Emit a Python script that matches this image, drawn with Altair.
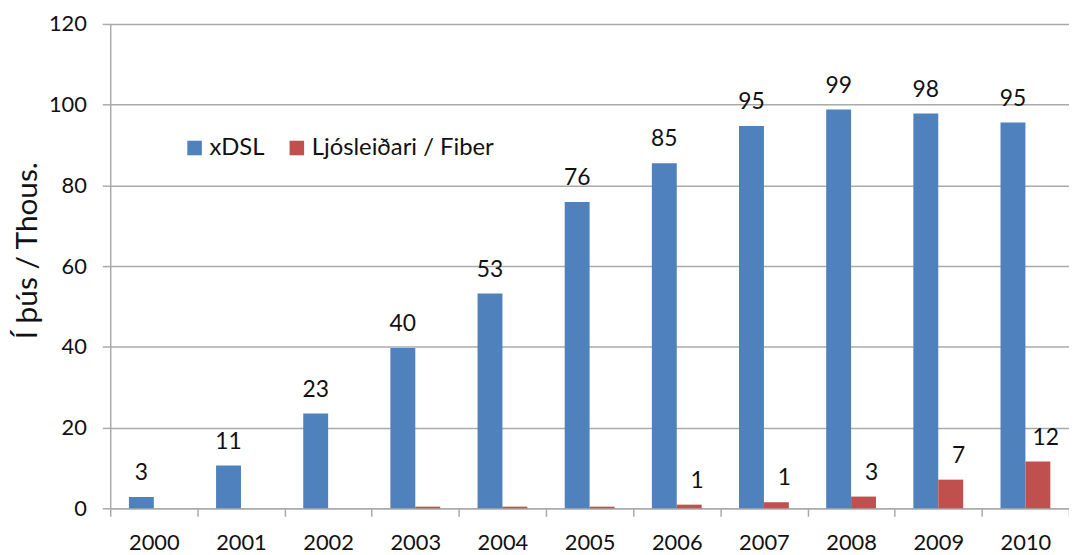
import altair as alt
import pandas as pd

years = ["2000", "2001", "2002", "2003", "2004", "2005", "2006", "2007", "2008", "2009", "2010"]
xdsl = [2.8, 10.6, 23.5, 39.7, 53.2, 75.9, 85.5, 94.7, 98.8, 97.8, 95.6]
fiber = [0, 0, 0, 0.4, 0.4, 0.4, 0.9, 1.5, 2.9, 7.1, 11.6]
xdsl_labels = ["3", "11", "23", "40", "53", "76", "85", "95", "99", "98", "95"]
fiber_labels = ["", "", "", "", "", "", "1", "1", "3", "7", "12"]
series_names = ["xDSL", "Ljósleiðari / Fiber"]
colors = ["#4F81BD", "#C0504D"]
y_ticks = [0, 20, 40, 60, 80, 100, 120]

rows = []
for i, yr in enumerate(years):
    rows.append({"year": yr, "series": series_names[0], "value": xdsl[i], "label": xdsl_labels[i]})
    rows.append({"year": yr, "series": series_names[1], "value": fiber[i], "label": fiber_labels[i]})
df = pd.DataFrame(rows)

FONT = "Lato"
TXT = "#111111"
GRID = "#AAAAAA"

x_enc = alt.X(
    "year:N",
    title=None,
    sort=years,
    scale=alt.Scale(paddingInner=0, paddingOuter=0),
    axis=alt.Axis(
        labelAngle=0,
        tickBand="extent",
        tickSize=8,
        tickColor=GRID,
        tickWidth=1.5,
        domainColor=GRID,
        domainWidth=1.5,
        labelPadding=17,
        labelFont=FONT,
        labelFontSize=22,
        labelColor=TXT,
        grid=False,
    ),
)
y_enc = alt.Y(
    "value:Q",
    title="Í þús / Thous.",
    scale=alt.Scale(domain=[0, 120], nice=False),
    axis=alt.Axis(
        values=y_ticks,
        tickSize=8,
        tickColor=GRID,
        tickWidth=1.5,
        domainColor=GRID,
        domainWidth=1.5,
        gridColor=GRID,
        gridWidth=1.5,
        labelPadding=16,
        labelFont=FONT,
        labelFontSize=22,
        labelColor=TXT,
        titleFont=FONT,
        titleFontSize=30,
        titleFontWeight="normal",
        titleColor=TXT,
        titleAngle=270,
        titleAlign="center",
        titleBaseline="alphabetic",
        titleX=-74,
        titleY=228,
    ),
)
xoff = alt.XOffset(
    "series:N",
    sort=series_names,
    scale=alt.Scale(domain=series_names, paddingInner=0, paddingOuter=0.75),
)

base = alt.Chart(df)

bars = base.mark_bar().encode(
    x=x_enc,
    y=y_enc,
    xOffset=xoff,
    color=alt.Color(
        "series:N",
        sort=series_names,
        scale=alt.Scale(domain=series_names, range=colors),
        legend=alt.Legend(
            title=None,
            orient="none",
            direction="horizontal",
            legendX=73,
            legendY=113,
            padding=0,
            symbolType="square",
            symbolSize=215,
            symbolStrokeWidth=0,
            labelFont=FONT,
            labelFontSize=24,
            labelColor=TXT,
            labelOffset=3,
            labelLimit=0,
            columnPadding=20,
        ),
    ),
)

text_dsl = base.transform_filter(alt.datum.series == series_names[0]).mark_text(
    font=FONT, fontSize=23, color=TXT, baseline="alphabetic", dy=-17
).encode(x=alt.X("year:N", sort=years), y=alt.Y("value:Q"), xOffset=xoff, text="label:N")

text_fib = base.transform_filter(alt.datum.series == series_names[1]).mark_text(
    font=FONT, fontSize=23, color=TXT, baseline="alphabetic", dy=-17, dx=8
).encode(x=alt.X("year:N", sort=years), y=alt.Y("value:Q"), xOffset=xoff, text="label:N")

chart = (
    alt.layer(bars, text_dsl, text_fib)
    .properties(
        width=966,
        height=488,
        autosize=alt.AutoSizeParams(type="none"),
        padding={"left": 103, "top": 14, "right": 0, "bottom": 45},
    )
    .configure_view(stroke=None)
)

chart.save("out.html", embed_options={"renderer": "svg", "actions": False})
